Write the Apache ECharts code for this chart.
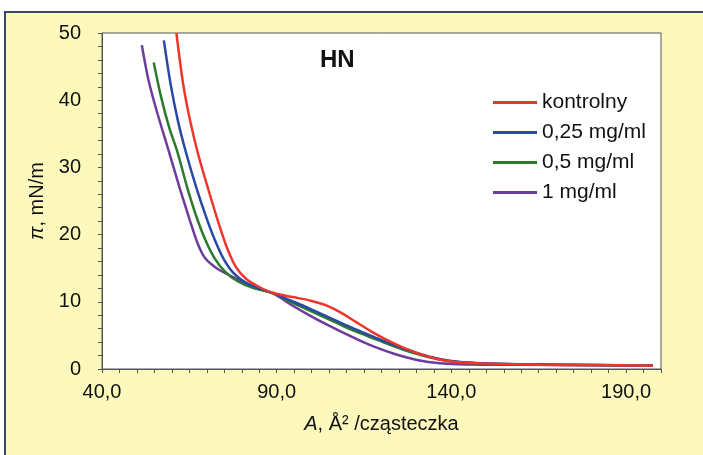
<!DOCTYPE html>
<html>
<head>
<meta charset="utf-8">
<script src="https://cdn.jsdelivr.net/npm/echarts@6/dist/echarts.min.js"></script>
<style>
  html, body { margin: 0; padding: 0; background: #fff; }
  #chart { width: 703px; height: 455px; }
</style>
</head>
<body>
<div id="chart"></div>
<script>
// izotermy: A [Å²/cząsteczka], π [mN/m]
var seriesNames = ['kontrolny', '0,25 mg/ml', '0,5 mg/ml', '1 mg/ml'];
var seriesColors = ['#f2352a', '#2a48a6', '#2c7a2e', '#6c3d9c'];

var kontrolny = [
    [61.3, 50], [63.2, 42.5], [65.2, 37], [67.5, 32], [70.5, 26.6], [73.5, 21.5],
    [75.8, 18], [78.3, 15.2], [81.3, 13.4], [85, 12.2], [89, 11.3], [94.7, 10.7],
    [99.5, 10.2], [104, 9.5], [108, 8.5], [113, 6.9], [118, 5.3], [124, 3.7],
    [130, 2.4], [136, 1.5], [142, 1.0], [150, 0.8], [165, 0.65], [180, 0.58], [197.7, 0.5]
];
var c025 = [
    [57.7, 48.9], [59.6, 42.5], [61.7, 37], [64.1, 32.1], [67, 27], [69.9, 22.5],
    [72.3, 19.2], [74.8, 16.4], [77.6, 14.3], [81, 12.9], [85, 12], [89, 11.3],
    [94, 10.2], [99, 9.1], [104, 7.9], [109, 6.7], [114, 5.6], [119, 4.5],
    [124, 3.5], [129, 2.6], [134, 1.8], [140, 1.2], [147, 0.9], [160, 0.7],
    [180, 0.6], [197.7, 0.5]
];
var c05 = [
    [54.8, 45.6], [56.9, 40.5], [59.2, 36], [61.7, 32.1], [64.4, 27], [67.2, 22.4],
    [69.6, 19.2], [72.2, 16.5], [75.2, 14.5], [78.7, 13.1], [83, 12.1], [89, 11.3],
    [94, 10.0], [99, 8.8], [104, 7.6], [109, 6.4], [114, 5.3], [119, 4.3],
    [124, 3.3], [129, 2.4], [134, 1.7], [140, 1.1], [147, 0.85], [160, 0.7],
    [180, 0.6], [197.7, 0.5]
];
var c1 = [
    [51.4, 48.2], [53.3, 43], [55.6, 38.5], [59.3, 32.1], [62.2, 27], [65.1, 22.2],
    [67.3, 18.8], [69.5, 16.5], [72.8, 15], [77.4, 13.7], [83, 12.2], [89, 11.2],
    [94, 9.6], [99, 8.1], [104, 6.7], [109, 5.4], [114, 4.2], [119, 3.1],
    [124, 2.2], [129, 1.5], [134, 1.0], [140, 0.75], [150, 0.65], [170, 0.6], [197.7, 0.5]
];
var allData = [kontrolny, c025, c05, c1];

var xMin = 40, xMax = 200, xLabelStep = 50;
var yMin = 0, yMax = 50, yLabelStep = 10;

var chart = echarts.init(document.getElementById('chart'), null, { renderer: 'canvas' });

var series = [];
for (var i = 0; i < allData.length; i++) {
    series.push({
        name: seriesNames[i],
        type: 'line',
        data: allData[i],
        showSymbol: false,
        smooth: 0.3,
        color: seriesColors[i],
        lineStyle: { width: 2.5, color: seriesColors[i] },
        z: 10 - i
    });
}

var option = {
    backgroundColor: '#fdf9bd',
    animation: false,
    textStyle: { fontFamily: 'Liberation Sans, Arial, sans-serif', color: '#111' },
    graphic: [
        // biała ramka zdjęcia + obramowanie
        { type: 'rect', shape: { x: 0, y: 0, width: 703, height: 11 }, style: { fill: '#fff' }, silent: true },
        { type: 'rect', shape: { x: 0, y: 0, width: 4, height: 455 }, style: { fill: '#fff' }, silent: true },
        { type: 'rect', shape: { x: 5, y: 12, width: 760, height: 500 },
          style: { fill: 'none', stroke: '#3a4868', lineWidth: 2 }, silent: true },
        { type: 'text', x: 320, y: 60,
          style: { text: 'HN', fontSize: 24, fontWeight: 'bold', fill: '#111',
                   fontFamily: 'Liberation Sans, Arial, sans-serif', textVerticalAlign: 'middle' } }
    ],
    legend: {
        orient: 'vertical',
        left: 488,
        top: 87,
        icon: 'rect',
        itemWidth: 44,
        itemHeight: 3,
        itemGap: 9,
        textStyle: { fontSize: 21, color: '#111' },
        data: seriesNames
    },
    grid: {
        left: 102, right: 42, top: 33, bottom: 86,
        show: true, backgroundColor: '#fff', borderColor: '#555', borderWidth: 1
    },
    xAxis: {
        type: 'value',
        min: xMin, max: xMax, interval: 5,
        name: '{i|A}, Å² /cząsteczka',
        nameLocation: 'middle',
        nameGap: 45,
        nameTextStyle: {
            fontSize: 20, color: '#111',
            rich: { i: { fontStyle: 'italic', fontSize: 20, color: '#111' } }
        },
        axisLine: { lineStyle: { color: '#555', width: 1 } },
        axisTick: { length: 4, lineStyle: { color: '#555' } },
        axisLabel: {
            fontSize: 20, color: '#111', margin: 13,
            formatter: function (v) {
                if ((v - xMin) % xLabelStep === 0 && v < xMax) {
                    return v.toFixed(1).replace('.', ',');
                }
                return '';
            }
        },
        splitLine: { show: false }
    },
    yAxis: {
        type: 'value',
        min: yMin, max: yMax, interval: 2,
        name: '{i|π}, mN/m',
        nameLocation: 'middle',
        nameGap: 54,
        nameTextStyle: {
            fontSize: 20, color: '#111',
            rich: { i: { fontStyle: 'italic', fontSize: 20, color: '#111' } }
        },
        axisLine: { show: true, lineStyle: { color: '#555', width: 1 } },
        axisTick: { show: true, length: 4, lineStyle: { color: '#555' } },
        axisLabel: {
            fontSize: 20, color: '#111', margin: 21,
            formatter: function (v) {
                return v % yLabelStep === 0 ? String(v) : '';
            }
        },
        splitLine: { show: false }
    },
    series: series
};

chart.setOption(option);
</script>
</body>
</html>
